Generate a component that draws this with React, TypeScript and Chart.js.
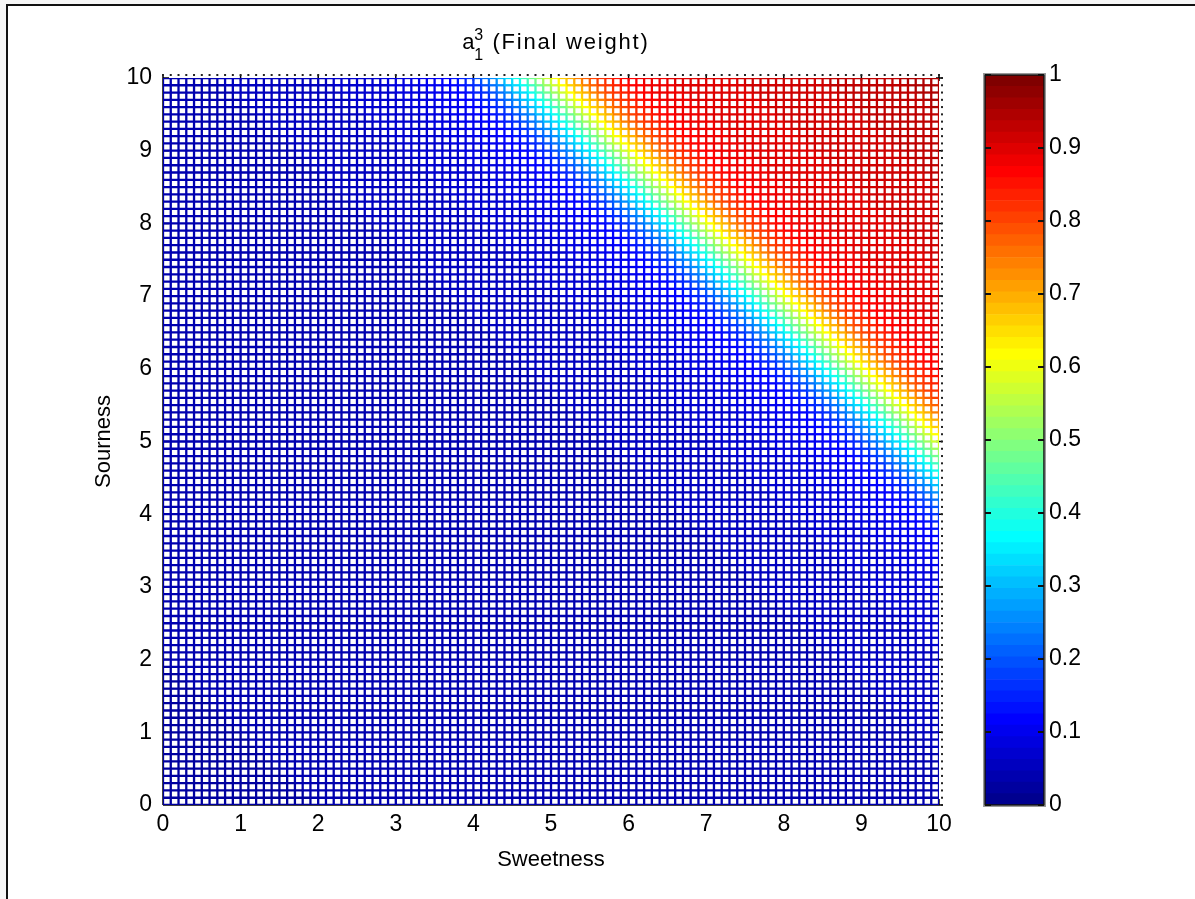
import React, { useEffect, useRef } from "react";
import { Chart, registerables } from "chart.js";

Chart.register(...registerables);

// ---- data -------------------------------------------------------------
// mesh grid coordinates (0 … 10, step 0.1)
const sweetnessGrid: number[] = Array.from({ length: 101 }, (_, i) => i / 10);
const sournessGrid: number[] = Array.from({ length: 101 }, (_, i) => i / 10);

const axisTicks: number[] = [0, 1, 2, 3, 4, 5, 6, 7, 8, 9, 10];
const colorbarTicks: number[] = [0, 0.1, 0.2, 0.3, 0.4, 0.5, 0.6, 0.7, 0.8, 0.9, 1];

// output a(3,1) read along the diagonal cross-section (sweetness + sourness)
const sectionSum: number[] = [0, 8, 10, 11, 12, 12.5, 13, 13.5, 13.8, 14, 14.25, 14.5, 14.75, 15, 15.25, 15.5, 15.75, 16, 16.5, 17, 18, 19, 20];
const sectionValue: number[] = [0.03, 0.035, 0.04, 0.05, 0.06, 0.07, 0.085, 0.105, 0.135, 0.17, 0.26, 0.36, 0.48, 0.6, 0.7, 0.79, 0.845, 0.87, 0.89, 0.9, 0.915, 0.93, 0.945];

const colorLevels: number[] = Array.from({ length: 64 }, (_, k) => k);

// ---- helpers ----------------------------------------------------------
function sectionLookup(s: number): number {
  if (s <= sectionSum[0]) return sectionValue[0];
  for (let i = 1; i < sectionSum.length; i++) {
    if (s <= sectionSum[i]) {
      const t = (s - sectionSum[i - 1]) / (sectionSum[i] - sectionSum[i - 1]);
      return sectionValue[i - 1] + t * (sectionValue[i] - sectionValue[i - 1]);
    }
  }
  return sectionValue[sectionValue.length - 1];
}
const surface = (x: number, y: number) => sectionLookup(x + y);

function u(j: number): number {
  if (j < 1 || j > 47) return 0;
  if (j <= 16) return j / 16;
  if (j <= 31) return 1;
  return (48 - j) / 16;
}
function jetColor(k: number): string {
  const r = u(k - 24), g = u(k - 8), b = u(k + 8);
  return `rgb(${Math.round(r * 255)},${Math.round(g * 255)},${Math.round(b * 255)})`;
}
function colorFor(v: number): string {
  const k = Math.min(64, Math.max(1, Math.floor(v * 64) + 1));
  return jetColor(k);
}

const tickFont = { family: '"Liberation Sans", Arial, sans-serif', size: 23, lineHeight: 1.2 };
const titleFont = { family: '"Liberation Sans", Arial, sans-serif', size: 22, lineHeight: 1.2 };

// ---- plugins ----------------------------------------------------------
const boxDecor = {
  id: "boxDecor",
  beforeDatasetsDraw(chart: any) {
    const { ctx, chartArea: a, scales } = chart;
    const x = scales.x, y = scales.y;
    ctx.save();
    ctx.strokeStyle = "#000";
    ctx.lineWidth = 1.5;
    ctx.beginPath();
    ctx.moveTo(a.left, a.bottom);
    ctx.lineTo(a.right + 3, a.bottom);
    ctx.moveTo(a.left, a.bottom);
    ctx.lineTo(a.left, a.top - 3);
    axisTicks.forEach((t) => {
      const px = x.getPixelForValue(t);
      const py = y.getPixelForValue(t);
      ctx.moveTo(px, a.bottom);
      ctx.lineTo(px, a.bottom - 6);
      ctx.moveTo(px, a.top - 3);
      ctx.lineTo(px, a.top + 3);
      ctx.moveTo(a.left, py);
      ctx.lineTo(a.left + 6, py);
      ctx.moveTo(a.right + 3, py);
      ctx.lineTo(a.right - 3, py);
    });
    ctx.stroke();
    ctx.restore();
  },
  afterDatasetsDraw(chart: any) {
    const { ctx, chartArea: a, scales } = chart;
    ctx.save();
    ctx.fillStyle = "#222";
    sweetnessGrid.forEach((g) => {
      const px = scales.x.getPixelForValue(g);
      ctx.fillRect(px - 1, a.top - 4, 2, 2);
    });
    sournessGrid.forEach((g) => {
      const py = scales.y.getPixelForValue(g);
      ctx.fillRect(a.right + 2, py - 1, 2, 2);
    });
    ctx.restore();
  },
};

const colorbarDecor = {
  id: "colorbarDecor",
  afterDraw(chart: any) {
    const { ctx, chartArea: a, scales } = chart;
    ctx.save();
    ctx.strokeStyle = "#999";
    ctx.lineWidth = 1;
    ctx.strokeRect(a.left - 1.5, a.top - 1.5, a.right - a.left + 3, a.bottom - a.top + 3);
    ctx.strokeStyle = "#111";
    ctx.lineWidth = 1.5;
    ctx.strokeRect(a.left, a.top, a.right - a.left, a.bottom - a.top);
    ctx.lineWidth = 2;
    ctx.beginPath();
    colorbarTicks.forEach((t) => {
      const py = Math.round(scales.y.getPixelForValue(t));
      ctx.moveTo(a.left, py);
      ctx.lineTo(a.left + 6, py);
      ctx.moveTo(a.right, py);
      ctx.lineTo(a.right - 6, py);
    });
    ctx.stroke();
    ctx.restore();
  },
};

export default function App() {
  const mainRef = useRef<HTMLCanvasElement>(null);
  const barRef = useRef<HTMLCanvasElement>(null);

  useEffect(() => {
    const meshDatasets: any[] = [];
    // rows (constant sourness)
    sournessGrid.forEach((yv) => {
      const vals = sweetnessGrid.map((xv) => surface(xv, yv));
      meshDatasets.push({
        data: sweetnessGrid.map((xv) => ({ x: xv, y: yv })),
        showLine: true,
        pointRadius: 0,
        borderWidth: 2.3,
        borderColor: colorFor(vals[0]),
        segment: {
          borderColor: (c: any) => colorFor((vals[c.p0DataIndex] + vals[c.p1DataIndex]) / 2),
        },
      });
    });
    // columns (constant sweetness)
    sweetnessGrid.forEach((xv) => {
      const vals = sournessGrid.map((yv) => surface(xv, yv));
      meshDatasets.push({
        data: sournessGrid.map((yv) => ({ x: xv, y: yv })),
        showLine: true,
        pointRadius: 0,
        borderWidth: 2.3,
        borderColor: colorFor(vals[0]),
        segment: {
          borderColor: (c: any) => colorFor((vals[c.p0DataIndex] + vals[c.p1DataIndex]) / 2),
        },
      });
    });

    const main = new Chart(mainRef.current as HTMLCanvasElement, {
      type: "scatter",
      data: { datasets: meshDatasets },
      options: {
        animation: false,
        responsive: false,
        events: [],
        layout: { padding: { left: 0, top: 78, right: 21, bottom: 0 } },
        plugins: { legend: { display: false }, tooltip: { enabled: false }, title: { display: false } },
        elements: { line: { tension: 0 } },
        scales: {
          x: {
            type: "linear",
            min: 0,
            max: 10,
            afterBuildTicks: (s: any) => { s.ticks = axisTicks.map((v) => ({ value: v })); },
            afterFit: (s: any) => { s.height = 94; },
            grid: { display: false, drawTicks: false },
            border: { display: false },
            ticks: { color: "#000", font: tickFont, padding: 6, maxRotation: 0, autoSkip: false },
            title: { display: true, text: "Sweetness", color: "#000", font: titleFont, padding: { top: 0, bottom: 26 } },
          },
          y: {
            type: "linear",
            min: 0,
            max: 10,
            afterBuildTicks: (s: any) => { s.ticks = axisTicks.map((v) => ({ value: v })); },
            afterFit: (s: any) => { s.width = 163; },
            grid: { display: false, drawTicks: false },
            border: { display: false },
            ticks: { color: "#000", font: tickFont, padding: 11, autoSkip: false },
            title: { display: true, text: "Sourness", color: "#000", font: titleFont, padding: { top: 91, bottom: 0 } },
          },
        },
      },
      plugins: [boxDecor],
    } as any);

    const bar = new Chart(barRef.current as HTMLCanvasElement, {
      type: "bar",
      data: {
        labels: [""],
        datasets: colorLevels.map((k) => ({
          data: [[k / 64, (k + 1) / 64]],
          backgroundColor: jetColor(k + 1),
          borderWidth: 0,
          grouped: false,
          barPercentage: 1,
          categoryPercentage: 1,
        })),
      },
      options: {
        animation: false,
        responsive: false,
        events: [],
        layout: { padding: { left: 25, top: 75, right: 0, bottom: 94 } },
        plugins: { legend: { display: false }, tooltip: { enabled: false } },
        scales: {
          x: { display: false },
          y: {
            position: "right",
            min: 0,
            max: 1,
            afterBuildTicks: (s: any) => { s.ticks = colorbarTicks.map((v) => ({ value: v })); },
            afterFit: (s: any) => { s.width = 151; },
            grid: { display: false, drawTicks: false },
            border: { display: false },
            ticks: {
              color: "#000",
              font: tickFont,
              padding: 5,
              autoSkip: false,
              callback: (v: any) => String(Math.round(Number(v) * 10) / 10),
            },
          },
        },
      },
      plugins: [colorbarDecor],
    } as any);

    return () => {
      main.destroy();
      bar.destroy();
    };
  }, []);

  return (
    <div style={{ position: "absolute", left: 0, top: 0, width: 1195, height: 899, background: "#f6f6f6", overflow: "hidden" }}>
      <div
        style={{
          position: "absolute",
          left: 6,
          top: 4,
          right: 0,
          bottom: 0,
          background: "#fff",
          borderTop: "2px solid #111",
          borderLeft: "2px solid #111",
        }}
      />
      <canvas ref={mainRef} width={960} height={899} style={{ position: "absolute", left: 0, top: 0 }} />
      <canvas ref={barRef} width={235} height={899} style={{ position: "absolute", left: 960, top: 0 }} />
      <div
        style={{
          position: "absolute",
          left: 0,
          top: 29,
          width: 1112,
          textAlign: "center",
          fontFamily: '"Liberation Sans", Arial, sans-serif',
          fontSize: 22,
          lineHeight: "26px",
          letterSpacing: "1.8px",
          color: "#000",
          whiteSpace: "nowrap",
        }}
      >
        <span style={{ position: "relative", paddingRight: 16 }}>
          a
          <span style={{ position: "absolute", left: 12, top: -7, fontSize: 16, letterSpacing: 0 }}>3</span>
          <span style={{ position: "absolute", left: 12, top: 13, fontSize: 16, letterSpacing: 0 }}>1</span>
        </span>
        (Final weight)
      </div>
    </div>
  );
}
